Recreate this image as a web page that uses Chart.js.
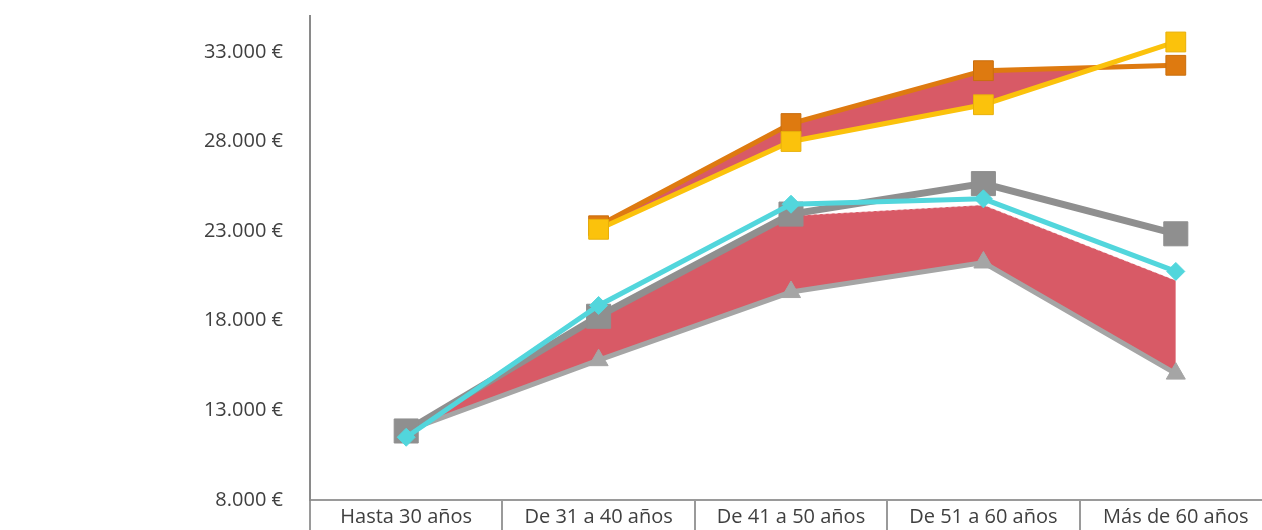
<!DOCTYPE html>
<html>
<head>
<meta charset="utf-8">
<script src="https://cdn.jsdelivr.net/npm/chart.js@4.4.1/dist/chart.umd.min.js"></script>
<style>
  html, body { margin: 0; padding: 0; background: #ffffff; overflow: hidden; }
  canvas { display: block; }
</style>
</head>
<body>
<canvas id="c" width="1272" height="530" style="width:1272px;height:530px"></canvas>
<script>
const categories = ["Hasta 30 años", "De 31 a 40 años", "De 41 a 50 años", "De 51 a 60 años", "Más de 60 años"];
const seriesOrange = [null, 23300, 29000, 31950, 32250];
const seriesYellow = [null, 23100, 28000, 30050, 33550];
const seriesGray = [11850, 18250, 23950, 25650, 22850];
const seriesCyan = [11500, 18850, 24500, 24800, 20750];
const seriesBandTop = [11700, 18150, 23850, 24450, 20250];
const seriesTriangle = [11850, 15800, 19600, 21250, 15050];
const yTickValues = [8000, 13000, 18000, 23000, 28000, 33000];

function fmtEuro(v) {
  return String(v).replace(/\B(?=(\d{3})+(?!\d))/g, '.') + ' €';
}

const RED = '#d85a66';

new Chart(document.getElementById('c'), {
  type: 'line',
  data: {
    labels: categories,
    datasets: [
      { // 0 yellow
        data: seriesYellow, borderColor: '#fbc20c', backgroundColor: '#fbc20c',
        borderWidth: 5, pointStyle: 'rect', pointRadius: 14, pointBorderWidth: 1,
        pointBorderColor: '#e8b00a', fill: false, order: 1
      },
      { // 1 orange
        data: seriesOrange, borderColor: '#de7a10', backgroundColor: '#de7a10',
        borderWidth: 5, pointStyle: 'rect', pointRadius: 14, pointBorderWidth: 1,
        pointBorderColor: '#c96e0e',
        fill: { target: 0, above: RED, below: 'rgba(0,0,0,0)' }, order: 2
      },
      { // 2 cyan
        data: seriesCyan, borderColor: '#52d6dc', backgroundColor: '#52d6dc',
        borderWidth: 5, pointStyle: 'rectRot', pointRadius: 9, pointBorderWidth: 1,
        fill: false, order: 3
      },
      { // 3 gray squares
        data: seriesGray, borderColor: '#8f8f8f', backgroundColor: '#8f8f8f',
        borderWidth: 7, pointStyle: 'rect', pointRadius: 17, pointBorderWidth: 1,
        fill: false, order: 4
      },
      { // 4 triangles
        data: seriesTriangle, borderColor: '#a5a5a5', backgroundColor: '#a5a5a5',
        borderWidth: 5, pointStyle: 'triangle', pointRadius: 11, pointBorderWidth: 1,
        fill: false, order: 5
      },
      { // 5 band top
        data: seriesBandTop, borderColor: 'rgba(255,255,255,0.55)', backgroundColor: RED,
        borderWidth: 1, borderDash: [3, 3], pointRadius: 0,
        fill: { target: 4, above: RED, below: RED }, order: 6
      }
    ]
  },
  options: {
    responsive: false,
    animation: false,
    devicePixelRatio: 1,
    layout: { autoPadding: false, padding: { left: 0, right: 0, top: 16, bottom: 0 } },
    plugins: {
      legend: { display: false },
      tooltip: { enabled: false },
      filler: { drawTime: 'beforeDatasetsDraw', propagate: false }
    },
    elements: { line: { tension: 0 } },
    scales: {
      x: {
        offset: true,
        grid: {
          offset: true, drawOnChartArea: false, drawTicks: true,
          tickLength: 30, color: '#9a9a9a', lineWidth: 2
        },
        border: { display: true, color: '#9a9a9a', width: 2 },
        ticks: {
          color: '#404040', padding: -25, maxRotation: 0, autoSkip: false,
          font: { family: 'Open Sans', size: 20 }
        },
        afterFit: (s) => { s.height = 30; s.paddingLeft = 0; s.paddingRight = 0; }
      },
      y: {
        min: 8000, max: 35000,
        grid: { display: false, drawTicks: false },
        border: { display: true, color: '#8a8a8a', width: 2 },
        afterBuildTicks: (s) => { s.ticks = yTickValues.map(v => ({ value: v })); },
        ticks: {
          color: '#404040', padding: 27,
          font: { family: 'Open Sans', size: 20 },
          callback: (v) => fmtEuro(v)
        },
        afterFit: (s) => { s.width = 310; s.paddingTop = 0; s.paddingBottom = 0; }
      }
    }
  }
});
</script>
</body>
</html>
